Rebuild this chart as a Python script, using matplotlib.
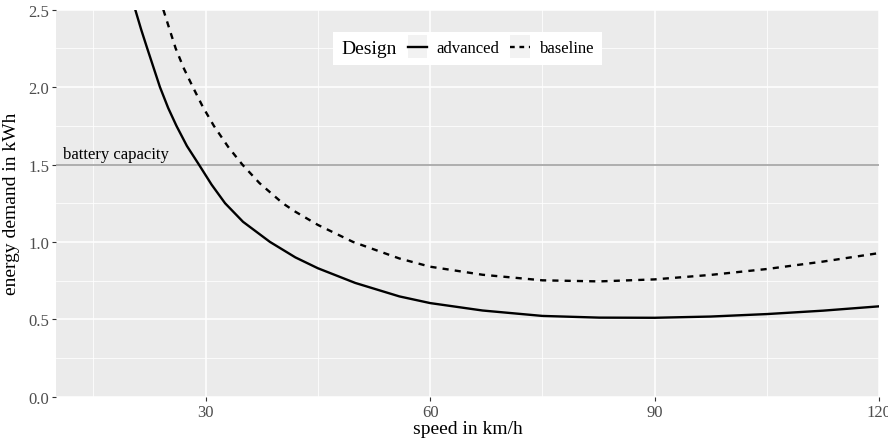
import matplotlib
matplotlib.use("Agg")
import matplotlib.pyplot as plt
from matplotlib.lines import Line2D
from matplotlib.patches import Rectangle
from matplotlib.legend_handler import HandlerLine2D
from matplotlib.offsetbox import HPacker
from matplotlib.ticker import MultipleLocator

# values
speed_adv = [20.6, 21.4, 22.2, 23.9, 25.0, 26.1, 27.5, 29.1, 30.8, 32.6, 35.0, 38.6, 42.0, 45.0,
             50.0, 55.9, 60.0, 67.0, 75.0, 82.6, 90.0, 97.5, 105.0, 112.5, 120.0]
energy_adv = [2.50, 2.37, 2.25, 2.00, 1.865, 1.75, 1.62, 1.50, 1.37, 1.25, 1.13, 1.00, 0.90, 0.83,
              0.735, 0.648, 0.605, 0.557, 0.522, 0.511, 0.510, 0.518, 0.534, 0.556, 0.584]

speed_base = [24.35, 25.2, 26.0, 27.1, 28.3, 29.6, 31.1, 33.0, 34.9, 37.2, 40.3, 42.0, 45.0, 49.7,
              55.9, 60.0, 67.0, 75.0, 82.6, 90.0, 97.5, 105.0, 112.5, 120.0]
energy_base = [2.50, 2.37, 2.25, 2.12, 2.00, 1.875, 1.75, 1.615, 1.50, 1.38, 1.25, 1.195, 1.11, 1.00,
               0.893, 0.84, 0.788, 0.752, 0.745, 0.758, 0.787, 0.825, 0.873, 0.928]

battery_capacity = 1.5
x_ticks = [30, 60, 90, 120]
y_ticks = [0.0, 0.5, 1.0, 1.5, 2.0, 2.5]

plt.rcParams['font.family'] = ['Liberation Serif', 'DejaVu Serif']


class KeyHandler(HandlerLine2D):
    """legend key with the light grey ggplot box behind it"""
    def create_artists(self, legend, orig_handle, xdescent, ydescent, width, height, fontsize, trans):
        bg = Rectangle((-xdescent, -ydescent - 4), width, height + 8,
                       facecolor='#F2F2F2', edgecolor='none', transform=trans)
        arts = super().create_artists(legend, orig_handle, xdescent, ydescent, width, height, fontsize, trans)
        return [bg] + list(arts)


fig = plt.figure(figsize=(8.88, 4.39), dpi=100)
ax = fig.add_axes([0.063, 0.094, 0.927, 0.8816])
ax.set_facecolor('#EBEBEB')

ax.axhline(battery_capacity, color='#A8A8A8', lw=1.3, zorder=2)
ax.annotate("battery capacity", xy=(10.9, battery_capacity), xytext=(0, 1.5),
            textcoords='offset points', ha='left', va='bottom', fontsize=12, zorder=3)

ax.plot(speed_adv, energy_adv, color='black', lw=1.7, solid_joinstyle='round', zorder=4)
ax.plot(speed_base, energy_base, color='black', lw=1.7, ls=(0, (2.6, 2.6)), zorder=4)

ax.set_xlim(10, 120)
ax.set_ylim(0, 2.5)
ax.set_xticks(x_ticks)
ax.set_yticks(y_ticks)
ax.set_yticklabels(["%.1f" % v for v in y_ticks])
ax.xaxis.set_minor_locator(MultipleLocator(15))
ax.yaxis.set_minor_locator(MultipleLocator(0.25))
ax.grid(which='major', color='white', lw=1.1, zorder=0)
ax.grid(which='minor', color='white', lw=0.55, zorder=0)
ax.set_axisbelow(True)
for s in ax.spines.values():
    s.set_visible(False)
ax.tick_params(which='major', length=2.7, width=0.8, color='#333333',
               labelcolor='#4D4D4D', labelsize=12, pad=2.2)
ax.tick_params(which='minor', length=0)

ax.set_xlabel("speed in km/h", fontsize=14, labelpad=0)
ax.set_ylabel("energy demand in kWh", fontsize=14, labelpad=5.5)

handles = [Line2D([], [], color='black', lw=1.7),
           Line2D([], [], color='black', lw=1.7, ls=(0, (2.0, 2.0)))]
leg = ax.legend(handles, ["advanced", "baseline"], title="Design", ncol=2,
                loc='center', bbox_to_anchor=(0.5, 0.9), fontsize=12, title_fontsize=14,
                frameon=True, fancybox=False, framealpha=1, edgecolor='white',
                handlelength=1.15, handletextpad=0.6, columnspacing=0.65, borderpad=0.5,
                handler_map={Line2D: KeyHandler()})
leg.get_frame().set_linewidth(0)

# put the legend title left of the keys, like ggplot's horizontal legend
old_box = leg._legend_box
title_box, handle_box = old_box.get_children()
new_box = HPacker(pad=old_box.pad, sep=8, align='center', children=[title_box, handle_box])
new_box.set_figure(fig)
new_box.axes = ax
new_box.set_offset(leg._findoffset)
leg._legend_box = new_box

fig.savefig("out.png", dpi=100)
